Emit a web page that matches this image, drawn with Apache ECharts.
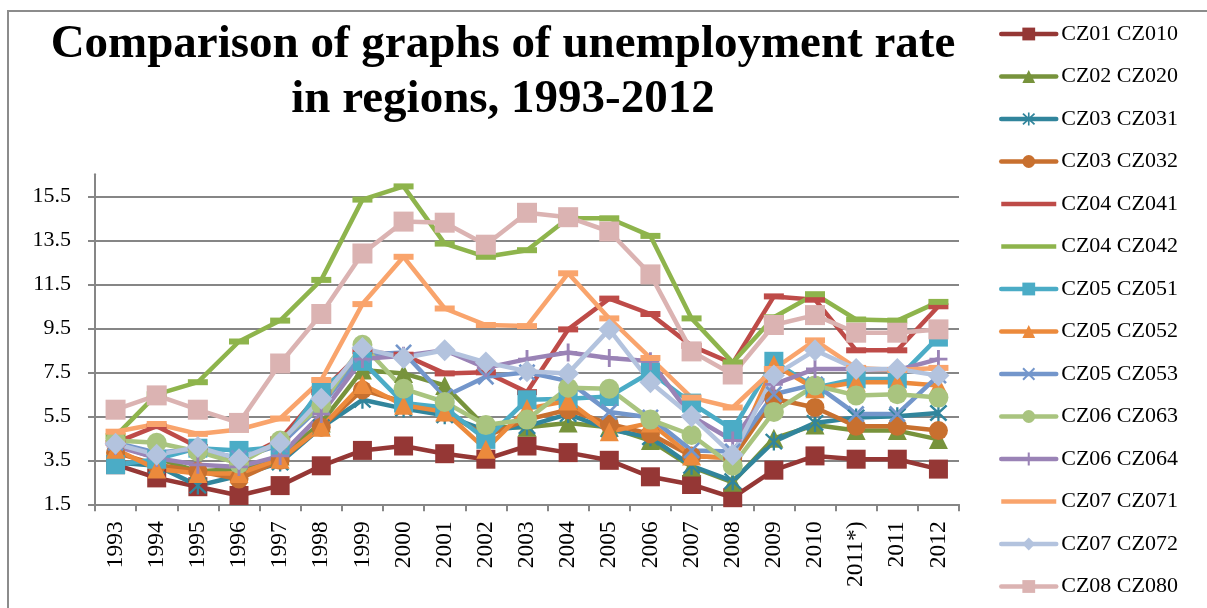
<!DOCTYPE html>
<html>
<head>
<meta charset="utf-8">
<title>Unemployment rate in regions, 1993-2012</title>
<script src="https://cdn.jsdelivr.net/npm/echarts@6/dist/echarts.min.js"></script>
<style>
  html, body { margin: 0; padding: 0; background: #ffffff; }
  #chart { width: 1207px; height: 608px; }
</style>
</head>
<body>
<div id="chart"></div>
<script>
// Years on the category axis ("2011*)" is the census-adjusted 2011 figure)
const categories = ['1993', '1994', '1995', '1996', '1997', '1998', '1999', '2000', '2001', '2002',
  '2003', '2004', '2005', '2006', '2007', '2008', '2009', '2010', '2011*)', '2011', '2012'];

// Unemployment rate (%) per region
const cz010 = [3.3, 2.7, 2.3, 1.9, 2.35, 3.25, 3.95, 4.15, 3.8, 3.55, 4.15, 3.85, 3.5, 2.75, 2.4, 1.8, 3.05, 3.7, 3.55, 3.55, 3.1];
const cz020 = [4.2, 3.6, 3.0, 3.1, 3.7, 5.2, 7.6, 7.45, 6.9, 5.0, 5.0, 5.2, 5.0, 4.4, 3.2, 2.5, 4.5, 5.1, 4.85, 4.85, 4.45];
const cz031 = [3.4, 3.25, 2.35, 2.8, 3.4, 5.0, 6.25, 5.85, 5.55, 4.85, 5.05, 5.6, 4.9, 4.55, 3.25, 2.55, 4.35, 5.2, 5.45, 5.5, 5.65];
const cz032 = [3.85, 3.3, 3.0, 2.65, 3.5, 5.0, 6.7, 6.15, 5.7, 4.6, 5.35, 5.8, 5.15, 4.7, 3.7, 3.6, 6.3, 5.9, 5.05, 5.05, 4.85];
const cz041 = [4.3, 5.05, 4.1, 3.5, 4.45, 6.6, 8.45, 8.3, 7.45, 7.5, 6.6, 9.45, 10.85, 10.15, 8.7, 7.9, 10.95, 10.8, 8.5, 8.5, 10.5];
const cz042 = [4.6, 6.5, 7.05, 8.9, 9.85, 11.7, 15.35, 15.95, 13.35, 12.75, 13.05, 14.5, 14.5, 13.7, 9.95, 7.95, 10.0, 11.05, 9.9, 9.85, 10.7];
const cz051 = [3.3, 3.55, 4.05, 3.95, 4.1, 6.8, 8.0, 6.1, 5.9, 4.45, 6.25, 6.3, 6.4, 7.5, 6.1, 4.9, 8.0, 6.8, 7.2, 7.2, 9.1];
const cz052 = [4.0, 3.1, 2.9, 2.9, 3.55, 5.0, 6.95, 6.0, 5.7, 4.0, 5.85, 6.2, 4.8, 5.2, 3.7, 3.6, 7.85, 6.75, 7.05, 7.05, 6.9];
const cz053 = [4.3, 3.85, 4.0, 3.6, 4.2, 6.0, 8.3, 8.4, 6.4, 7.3, 7.5, 7.1, 5.7, 5.45, 3.95, 3.9, 6.5, 6.95, 5.6, 5.6, 7.35];
const cz063 = [4.4, 4.3, 3.9, 3.35, 4.4, 6.0, 8.75, 6.75, 6.15, 5.1, 5.35, 6.8, 6.75, 5.35, 4.65, 3.25, 5.7, 6.9, 6.45, 6.5, 6.35];
const cz064 = [4.15, 3.6, 3.3, 3.2, 3.7, 5.6, 8.1, 8.25, 8.5, 7.7, 8.1, 8.4, 8.15, 8.0, 5.5, 4.4, 6.95, 7.65, 7.65, 7.6, 8.1];
const cz071 = [4.8, 5.15, 4.7, 4.9, 5.4, 7.15, 10.6, 12.75, 10.4, 9.65, 9.6, 12.0, 9.95, 8.15, 6.35, 5.9, 7.65, 8.95, 7.7, 7.6, 7.7];
const cz072 = [4.25, 3.75, 4.1, 3.55, 4.3, 6.3, 8.6, 8.15, 8.5, 7.95, 7.55, 7.45, 9.45, 7.05, 5.5, 3.75, 7.35, 8.5, 7.65, 7.65, 7.35];
const cz080 = [5.8, 6.45, 5.8, 5.2, 7.9, 10.15, 12.9, 14.35, 14.3, 13.3, 14.75, 14.55, 13.9, 11.95, 8.45, 7.4, 9.65, 10.1, 9.3, 9.3, 9.45];

// Value axis: labelled every 2 points starting at 1.5
const yMin = 1.5;
const yMax = 16.5;
const yLabels = [1.5, 3.5, 5.5, 7.5, 9.5, 11.5, 13.5, 15.5];

// Marker shapes that ECharts has no built-in symbol for
const ASTERISK = 'path://M4.4,0H5.6V10H4.4Z M0.3,1.2L1.2,0.3L9.7,8.8L8.8,9.7Z M8.8,0.3L9.7,1.2L1.2,9.7L0.3,8.8Z';
const CROSS = 'path://M0,1.1L1.1,0L10,8.9L8.9,10Z M8.9,0L10,1.1L1.1,10L0,8.9Z';
const PLUS = 'path://M4.2,0H5.8V10H4.2Z M0,4.2H10V5.8H0Z';
// Legend key for the series drawn with short dash markers: just a thick line
const LINE_KEY = 'path://M0,0H55V4.5H0Z';

const FONT = 'Liberation Serif';

const seriesDefs = [
  { name: 'CZ01 CZ010', data: cz010, color: '#953735', symbol: 'rect', size: 19 },
  { name: 'CZ02 CZ020', data: cz020, color: '#77933C', symbol: 'triangle', size: 19 },
  { name: 'CZ03 CZ031', data: cz031, color: '#31859C', symbol: ASTERISK, size: 18 },
  { name: 'CZ03 CZ032', data: cz032, color: '#C8702F', symbol: 'circle', size: 19 },
  { name: 'CZ04 CZ041', data: cz041, color: '#BE4B48', symbol: 'rect', size: [20, 6], dash: true },
  { name: 'CZ04 CZ042', data: cz042, color: '#8EB44C', symbol: 'rect', size: [20, 6], dash: true },
  { name: 'CZ05 CZ051', data: cz051, color: '#4BACC6', symbol: 'rect', size: 19 },
  { name: 'CZ05 CZ052', data: cz052, color: '#EC8A3C', symbol: 'triangle', size: 19 },
  { name: 'CZ05 CZ053', data: cz053, color: '#7396CB', symbol: CROSS, size: 17 },
  { name: 'CZ06 CZ063', data: cz063, color: '#A9C47F', symbol: 'circle', size: 20 },
  { name: 'CZ06 CZ064', data: cz064, color: '#9A83B6', symbol: PLUS, size: 18 },
  { name: 'CZ07 CZ071', data: cz071, color: '#F9A46C', symbol: 'rect', size: [20, 6], dash: true },
  { name: 'CZ07 CZ072', data: cz072, color: '#B3C3DE', symbol: 'diamond', size: 22 },
  { name: 'CZ08 CZ080', data: cz080, color: '#DBB3B2', symbol: 'rect', size: 20 }
];

const chart = echarts.init(document.getElementById('chart'), null, { renderer: 'canvas' });

const option = {
  animation: false,
  backgroundColor: '#ffffff',
  title: {
    text: 'Comparison of graphs of unemployment rate\nin regions, 1993-2012',
    left: 498,
    top: 12,
    textAlign: 'center',
    textStyle: {
      fontFamily: FONT,
      fontWeight: 'bold',
      fontSize: 47,
      lineHeight: 55,
      color: '#000000'
    }
  },
  legend: {
    orient: 'vertical',
    left: 994,
    top: 18,
    itemWidth: 55,
    itemHeight: 16,
    itemGap: 20.5,
    lineStyle: { width: 4.5, cap: 'round' },
    textStyle: { fontFamily: FONT, fontSize: 22, color: '#000000' },
    data: seriesDefs.map(s => (s.dash ? { name: s.name, icon: LINE_KEY } : { name: s.name }))
  },
  grid: {
    left: 95,
    right: 248,
    top: 174.3,
    bottom: 103.7,
    containLabel: false
  },
  xAxis: {
    type: 'category',
    data: categories,
    boundaryGap: true,
    axisLine: { lineStyle: { color: '#868686', width: 2 } },
    axisTick: { show: true, length: 7, lineStyle: { color: '#868686', width: 2 } },
    axisLabel: {
      rotate: 90,
      margin: 17,
      interval: 0,
      fontFamily: FONT,
      fontSize: 23.5,
      color: '#000000'
    }
  },
  yAxis: {
    type: 'value',
    min: yMin,
    max: yMax,
    interval: 0.5,
    axisLine: { show: true, lineStyle: { color: '#868686', width: 2 } },
    axisTick: {
      show: true,
      length: 7,
      customValues: yLabels,
      lineStyle: { color: '#868686', width: 2 }
    },
    axisLabel: {
      customValues: yLabels,
      margin: 24,
      fontFamily: FONT,
      fontSize: 22,
      color: '#000000',
      formatter: v => v.toFixed(1)
    },
    splitLine: {
      show: true,
      lineStyle: { color: '#868686', width: 2 }
    }
  },
  graphic: [
    {
      type: 'rect',
      silent: true,
      shape: { x: 8, y: 11, width: 1400, height: 800 },
      style: { fill: 'none', stroke: '#8c8c8c', lineWidth: 2 }
    }
  ],
  series: seriesDefs.map(s => ({
    name: s.name,
    type: 'line',
    data: s.data,
    symbol: s.symbol,
    symbolSize: s.size,
    showAllSymbol: true,
    clip: false,
    color: s.color,
    itemStyle: { color: s.color },
    lineStyle: { color: s.color, width: 4.5 },
    emphasis: { disabled: true }
  }))
};

chart.setOption(option);
</script>
</body>
</html>
